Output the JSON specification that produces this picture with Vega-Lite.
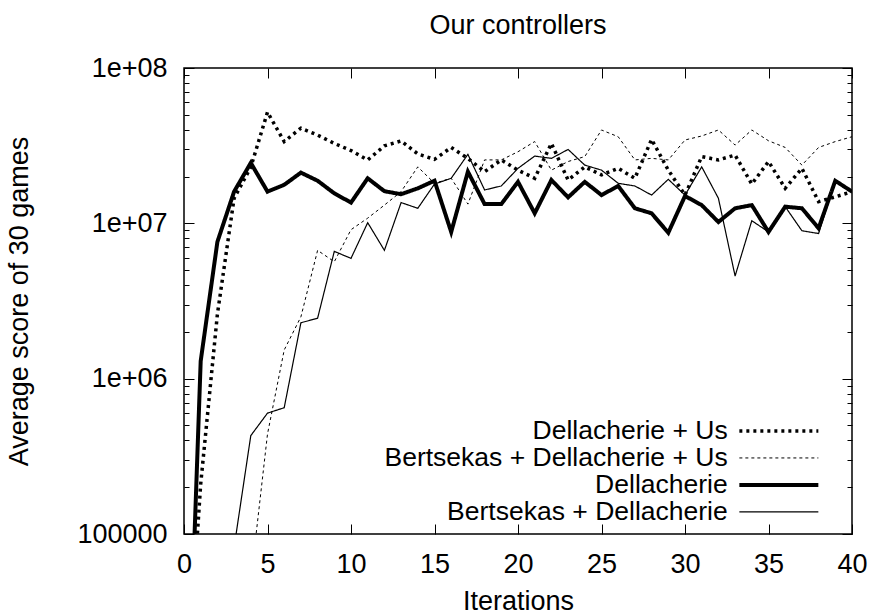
{
  "$schema": "https://vega.github.io/schema/vega-lite/v6.json",
  "width": 668,
  "height": 466,
  "autosize": {"type": "none"},
  "padding": {"left": 184, "top": 68, "right": 22, "bottom": 80},
  "background": "white",
  "config": {
    "font": "Liberation Sans",
    "view": {"stroke": "black", "strokeWidth": 1.5},
    "axis": {"labelFont": "Liberation Sans", "titleFont": "Liberation Sans", "labelFontSize": 27, "titleFontSize": 27, "labelColor": "black", "titleColor": "black", "titleFontWeight": "normal", "tickColor": "black", "tickWidth": 1, "domain": false, "grid": false, "labelOverlap": false, "labelFlush": false},
    "legend": {"orient": "none", "legendX": 581.6, "legendY": 349.7, "labelFont": "Liberation Sans", "labelFontSize": 26.5, "labelColor": "black", "labelAlign": "right", "labelOffset": -64.4, "symbolType": "M-4,0L4,0", "symbolSize": 390, "symbolStrokeColor": "black", "rowPadding": 0, "padding": 0, "labelLimit": 600},
    "title": {"font": "Liberation Sans", "fontSize": 27, "fontWeight": "normal", "color": "black"}
  },
  "title": {"text": "Our controllers", "anchor": "middle", "frame": "group", "baseline": "alphabetic", "offset": 0, "dy": 7},
  "data": {"values": [
    {"iter": 0, "score": 1200, "series": "Dellacherie"},
    {"iter": 1, "score": 1300000, "series": "Dellacherie"},
    {"iter": 2, "score": 7600000, "series": "Dellacherie"},
    {"iter": 3, "score": 16000000, "series": "Dellacherie"},
    {"iter": 4, "score": 24500000, "series": "Dellacherie"},
    {"iter": 5, "score": 16000000, "series": "Dellacherie"},
    {"iter": 6, "score": 17700000, "series": "Dellacherie"},
    {"iter": 7, "score": 21200000, "series": "Dellacherie"},
    {"iter": 8, "score": 18800000, "series": "Dellacherie"},
    {"iter": 9, "score": 15600000, "series": "Dellacherie"},
    {"iter": 10, "score": 13600000, "series": "Dellacherie"},
    {"iter": 11, "score": 19500000, "series": "Dellacherie"},
    {"iter": 12, "score": 16100000, "series": "Dellacherie"},
    {"iter": 13, "score": 15400000, "series": "Dellacherie"},
    {"iter": 14, "score": 16800000, "series": "Dellacherie"},
    {"iter": 15, "score": 18800000, "series": "Dellacherie"},
    {"iter": 16, "score": 8800000, "series": "Dellacherie"},
    {"iter": 17, "score": 21500000, "series": "Dellacherie"},
    {"iter": 18, "score": 13300000, "series": "Dellacherie"},
    {"iter": 19, "score": 13300000, "series": "Dellacherie"},
    {"iter": 20, "score": 18500000, "series": "Dellacherie"},
    {"iter": 21, "score": 11600000, "series": "Dellacherie"},
    {"iter": 22, "score": 19000000, "series": "Dellacherie"},
    {"iter": 23, "score": 14700000, "series": "Dellacherie"},
    {"iter": 24, "score": 18500000, "series": "Dellacherie"},
    {"iter": 25, "score": 15200000, "series": "Dellacherie"},
    {"iter": 26, "score": 17400000, "series": "Dellacherie"},
    {"iter": 27, "score": 12500000, "series": "Dellacherie"},
    {"iter": 28, "score": 11600000, "series": "Dellacherie"},
    {"iter": 29, "score": 8700000, "series": "Dellacherie"},
    {"iter": 30, "score": 15000000, "series": "Dellacherie"},
    {"iter": 31, "score": 13100000, "series": "Dellacherie"},
    {"iter": 32, "score": 10200000, "series": "Dellacherie"},
    {"iter": 33, "score": 12500000, "series": "Dellacherie"},
    {"iter": 34, "score": 13100000, "series": "Dellacherie"},
    {"iter": 35, "score": 8800000, "series": "Dellacherie"},
    {"iter": 36, "score": 12800000, "series": "Dellacherie"},
    {"iter": 37, "score": 12500000, "series": "Dellacherie"},
    {"iter": 38, "score": 9300000, "series": "Dellacherie"},
    {"iter": 39, "score": 18800000, "series": "Dellacherie"},
    {"iter": 40, "score": 16000000, "series": "Dellacherie"},

    {"iter": 0, "score": 5000, "series": "Dellacherie + Us"},
    {"iter": 1, "score": 210000, "series": "Dellacherie + Us"},
    {"iter": 2, "score": 2600000, "series": "Dellacherie + Us"},
    {"iter": 3, "score": 14500000, "series": "Dellacherie + Us"},
    {"iter": 4, "score": 23000000, "series": "Dellacherie + Us"},
    {"iter": 5, "score": 52000000, "series": "Dellacherie + Us"},
    {"iter": 6, "score": 33600000, "series": "Dellacherie + Us"},
    {"iter": 7, "score": 41000000, "series": "Dellacherie + Us"},
    {"iter": 8, "score": 37000000, "series": "Dellacherie + Us"},
    {"iter": 9, "score": 32700000, "series": "Dellacherie + Us"},
    {"iter": 10, "score": 29400000, "series": "Dellacherie + Us"},
    {"iter": 11, "score": 25600000, "series": "Dellacherie + Us"},
    {"iter": 12, "score": 31500000, "series": "Dellacherie + Us"},
    {"iter": 13, "score": 33900000, "series": "Dellacherie + Us"},
    {"iter": 14, "score": 28000000, "series": "Dellacherie + Us"},
    {"iter": 15, "score": 25800000, "series": "Dellacherie + Us"},
    {"iter": 16, "score": 30800000, "series": "Dellacherie + Us"},
    {"iter": 17, "score": 26200000, "series": "Dellacherie + Us"},
    {"iter": 18, "score": 21500000, "series": "Dellacherie + Us"},
    {"iter": 19, "score": 25600000, "series": "Dellacherie + Us"},
    {"iter": 20, "score": 22000000, "series": "Dellacherie + Us"},
    {"iter": 21, "score": 19500000, "series": "Dellacherie + Us"},
    {"iter": 22, "score": 32700000, "series": "Dellacherie + Us"},
    {"iter": 23, "score": 19000000, "series": "Dellacherie + Us"},
    {"iter": 24, "score": 23100000, "series": "Dellacherie + Us"},
    {"iter": 25, "score": 20500000, "series": "Dellacherie + Us"},
    {"iter": 26, "score": 22600000, "series": "Dellacherie + Us"},
    {"iter": 27, "score": 19500000, "series": "Dellacherie + Us"},
    {"iter": 28, "score": 34700000, "series": "Dellacherie + Us"},
    {"iter": 29, "score": 22000000, "series": "Dellacherie + Us"},
    {"iter": 30, "score": 15200000, "series": "Dellacherie + Us"},
    {"iter": 31, "score": 26900000, "series": "Dellacherie + Us"},
    {"iter": 32, "score": 25600000, "series": "Dellacherie + Us"},
    {"iter": 33, "score": 27500000, "series": "Dellacherie + Us"},
    {"iter": 34, "score": 17900000, "series": "Dellacherie + Us"},
    {"iter": 35, "score": 25000000, "series": "Dellacherie + Us"},
    {"iter": 36, "score": 16800000, "series": "Dellacherie + Us"},
    {"iter": 37, "score": 22600000, "series": "Dellacherie + Us"},
    {"iter": 38, "score": 13800000, "series": "Dellacherie + Us"},
    {"iter": 39, "score": 14800000, "series": "Dellacherie + Us"},
    {"iter": 40, "score": 16000000, "series": "Dellacherie + Us"},

    {"iter": 4, "score": 50000, "series": "Bertsekas + Dellacherie + Us"},
    {"iter": 5, "score": 440000, "series": "Bertsekas + Dellacherie + Us"},
    {"iter": 6, "score": 1530000, "series": "Bertsekas + Dellacherie + Us"},
    {"iter": 7, "score": 2500000, "series": "Bertsekas + Dellacherie + Us"},
    {"iter": 8, "score": 6700000, "series": "Bertsekas + Dellacherie + Us"},
    {"iter": 9, "score": 5660000, "series": "Bertsekas + Dellacherie + Us"},
    {"iter": 10, "score": 9100000, "series": "Bertsekas + Dellacherie + Us"},
    {"iter": 11, "score": 10800000, "series": "Bertsekas + Dellacherie + Us"},
    {"iter": 12, "score": 13100000, "series": "Bertsekas + Dellacherie + Us"},
    {"iter": 13, "score": 16000000, "series": "Bertsekas + Dellacherie + Us"},
    {"iter": 14, "score": 23100000, "series": "Bertsekas + Dellacherie + Us"},
    {"iter": 15, "score": 18100000, "series": "Bertsekas + Dellacherie + Us"},
    {"iter": 16, "score": 19500000, "series": "Bertsekas + Dellacherie + Us"},
    {"iter": 17, "score": 13300000, "series": "Bertsekas + Dellacherie + Us"},
    {"iter": 18, "score": 25600000, "series": "Bertsekas + Dellacherie + Us"},
    {"iter": 19, "score": 25600000, "series": "Bertsekas + Dellacherie + Us"},
    {"iter": 20, "score": 28900000, "series": "Bertsekas + Dellacherie + Us"},
    {"iter": 21, "score": 33600000, "series": "Bertsekas + Dellacherie + Us"},
    {"iter": 22, "score": 22000000, "series": "Bertsekas + Dellacherie + Us"},
    {"iter": 23, "score": 25000000, "series": "Bertsekas + Dellacherie + Us"},
    {"iter": 24, "score": 26900000, "series": "Bertsekas + Dellacherie + Us"},
    {"iter": 25, "score": 39900000, "series": "Bertsekas + Dellacherie + Us"},
    {"iter": 26, "score": 36100000, "series": "Bertsekas + Dellacherie + Us"},
    {"iter": 27, "score": 25600000, "series": "Bertsekas + Dellacherie + Us"},
    {"iter": 28, "score": 26200000, "series": "Bertsekas + Dellacherie + Us"},
    {"iter": 29, "score": 25600000, "series": "Bertsekas + Dellacherie + Us"},
    {"iter": 30, "score": 34400000, "series": "Bertsekas + Dellacherie + Us"},
    {"iter": 31, "score": 36500000, "series": "Bertsekas + Dellacherie + Us"},
    {"iter": 32, "score": 39900000, "series": "Bertsekas + Dellacherie + Us"},
    {"iter": 33, "score": 31900000, "series": "Bertsekas + Dellacherie + Us"},
    {"iter": 34, "score": 39900000, "series": "Bertsekas + Dellacherie + Us"},
    {"iter": 35, "score": 34000000, "series": "Bertsekas + Dellacherie + Us"},
    {"iter": 36, "score": 30800000, "series": "Bertsekas + Dellacherie + Us"},
    {"iter": 37, "score": 23700000, "series": "Bertsekas + Dellacherie + Us"},
    {"iter": 38, "score": 30800000, "series": "Bertsekas + Dellacherie + Us"},
    {"iter": 39, "score": 33600000, "series": "Bertsekas + Dellacherie + Us"},
    {"iter": 40, "score": 36100000, "series": "Bertsekas + Dellacherie + Us"},

    {"iter": 3, "score": 82000, "series": "Bertsekas + Dellacherie"},
    {"iter": 4, "score": 430000, "series": "Bertsekas + Dellacherie"},
    {"iter": 5, "score": 600000, "series": "Bertsekas + Dellacherie"},
    {"iter": 6, "score": 650000, "series": "Bertsekas + Dellacherie"},
    {"iter": 7, "score": 2290000, "series": "Bertsekas + Dellacherie"},
    {"iter": 8, "score": 2450000, "series": "Bertsekas + Dellacherie"},
    {"iter": 9, "score": 6600000, "series": "Bertsekas + Dellacherie"},
    {"iter": 10, "score": 5950000, "series": "Bertsekas + Dellacherie"},
    {"iter": 11, "score": 10100000, "series": "Bertsekas + Dellacherie"},
    {"iter": 12, "score": 6700000, "series": "Bertsekas + Dellacherie"},
    {"iter": 13, "score": 13600000, "series": "Bertsekas + Dellacherie"},
    {"iter": 14, "score": 12500000, "series": "Bertsekas + Dellacherie"},
    {"iter": 15, "score": 17900000, "series": "Bertsekas + Dellacherie"},
    {"iter": 16, "score": 19500000, "series": "Bertsekas + Dellacherie"},
    {"iter": 17, "score": 27800000, "series": "Bertsekas + Dellacherie"},
    {"iter": 18, "score": 16400000, "series": "Bertsekas + Dellacherie"},
    {"iter": 19, "score": 17400000, "series": "Bertsekas + Dellacherie"},
    {"iter": 20, "score": 22600000, "series": "Bertsekas + Dellacherie"},
    {"iter": 21, "score": 27100000, "series": "Bertsekas + Dellacherie"},
    {"iter": 22, "score": 26200000, "series": "Bertsekas + Dellacherie"},
    {"iter": 23, "score": 29900000, "series": "Bertsekas + Dellacherie"},
    {"iter": 24, "score": 23700000, "series": "Bertsekas + Dellacherie"},
    {"iter": 25, "score": 22000000, "series": "Bertsekas + Dellacherie"},
    {"iter": 26, "score": 18100000, "series": "Bertsekas + Dellacherie"},
    {"iter": 27, "score": 17400000, "series": "Bertsekas + Dellacherie"},
    {"iter": 28, "score": 15200000, "series": "Bertsekas + Dellacherie"},
    {"iter": 29, "score": 19200000, "series": "Bertsekas + Dellacherie"},
    {"iter": 30, "score": 15200000, "series": "Bertsekas + Dellacherie"},
    {"iter": 31, "score": 23100000, "series": "Bertsekas + Dellacherie"},
    {"iter": 32, "score": 14500000, "series": "Bertsekas + Dellacherie"},
    {"iter": 33, "score": 4580000, "series": "Bertsekas + Dellacherie"},
    {"iter": 34, "score": 10400000, "series": "Bertsekas + Dellacherie"},
    {"iter": 35, "score": 8800000, "series": "Bertsekas + Dellacherie"},
    {"iter": 36, "score": 12800000, "series": "Bertsekas + Dellacherie"},
    {"iter": 37, "score": 8960000, "series": "Bertsekas + Dellacherie"},
    {"iter": 38, "score": 8600000, "series": "Bertsekas + Dellacherie"},
    {"iter": 39, "score": 18800000, "series": "Bertsekas + Dellacherie"},
    {"iter": 40, "score": 16000000, "series": "Bertsekas + Dellacherie"}
  ]},
  "layer": [
    {
      "mark": {"type": "line", "clip": true, "color": "black", "strokeCap": "butt", "strokeJoin": "miter"},
      "encoding": {
        "x": {"field": "iter", "type": "quantitative", "scale": {"domain": [0, 40], "nice": false, "zero": false},
          "axis": {"orient": "bottom", "values": [0, 5, 10, 15, 20, 25, 30, 35, 40], "tickSize": -10, "labelPadding": 27, "labelDx": 3, "title": "Iterations", "titleBaseline": "alphabetic", "titleY": 75}},
        "y": {"field": "score", "type": "quantitative", "scale": {"type": "log", "domain": [100000, 100000000], "nice": false},
          "axis": {"orient": "left",
            "values": [100000, 200000, 300000, 400000, 500000, 600000, 700000, 800000, 900000, 1000000, 2000000, 3000000, 4000000, 5000000, 6000000, 7000000, 8000000, 9000000, 10000000, 20000000, 30000000, 40000000, 50000000, 60000000, 70000000, 80000000, 90000000, 100000000],
            "labelExpr": "datum.value == 100000 ? '100000' : datum.value == 1000000 ? '1e+06' : datum.value == 10000000 ? '1e+07' : datum.value == 100000000 ? '1e+08' : ''",
            "tickSize": {"condition": {"test": "indexof([100000, 1000000, 10000000, 100000000], datum.value) >= 0", "value": -10}, "value": -5},
            "labelPadding": 27,
            "title": "Average score of 30 games", "titleX": -178, "titleY": 233, "titleBaseline": "top", "titleAngle": -90}},
        "detail": {"field": "series", "type": "nominal"},
        "strokeDash": {"field": "series", "type": "nominal", "title": null,
          "scale": {"domain": ["Dellacherie + Us", "Bertsekas + Dellacherie + Us", "Dellacherie", "Bertsekas + Dellacherie"], "range": [[3, 4], [3, 3], [1, 0], [1, 0]]}},
        "strokeWidth": {"field": "series", "type": "nominal", "title": null,
          "scale": {"type": "ordinal", "domain": ["Dellacherie + Us", "Bertsekas + Dellacherie + Us", "Dellacherie", "Bertsekas + Dellacherie"], "range": [3.5, 1, 4, 1.2]}}
      }
    },
    {
      "mark": {"type": "line", "clip": true, "strokeOpacity": 0},
      "encoding": {
        "x": {"field": "iter", "type": "quantitative",
          "axis": {"orient": "top", "values": [0, 5, 10, 15, 20, 25, 30, 35, 40], "tickSize": -10, "labels": false, "title": null}},
        "y": {"field": "score", "type": "quantitative",
          "axis": {"orient": "right",
            "values": [100000, 200000, 300000, 400000, 500000, 600000, 700000, 800000, 900000, 1000000, 2000000, 3000000, 4000000, 5000000, 6000000, 7000000, 8000000, 9000000, 10000000, 20000000, 30000000, 40000000, 50000000, 60000000, 70000000, 80000000, 90000000, 100000000],
            "tickSize": {"condition": {"test": "indexof([100000, 1000000, 10000000, 100000000], datum.value) >= 0", "value": -10}, "value": -5},
            "labels": false, "title": null}},
        "detail": {"field": "series", "type": "nominal"}
      }
    }
  ],
  "resolve": {"axis": {"x": "independent", "y": "independent"}}
}
